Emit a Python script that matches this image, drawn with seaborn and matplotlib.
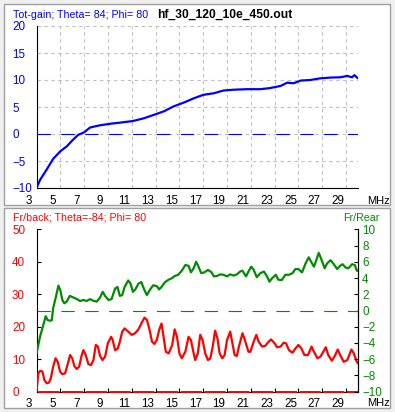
import matplotlib
matplotlib.use("Agg")
import numpy as np
import pandas as pd
import matplotlib.pyplot as plt
import seaborn as sns
from matplotlib.patches import Rectangle
from matplotlib.transforms import ScaledTranslation

# ---------------- data ----------------
gain_mhz = [3.0, 3.3, 3.85, 4.4, 5.0, 5.54, 5.96, 6.5, 7.0, 7.5,
            8.3, 9.2, 10.0, 11.1, 12.0, 12.8, 13.7, 14.5, 15.35, 16.2,
            17.0, 17.9, 18.7, 19.55, 20.7, 21.8, 22.6, 23.5, 24.05, 24.6,
            25.2, 26.0, 26.8, 27.7, 28.5, 29.1, 29.5, 29.7, 30.0]
gain_db = [-10.0, -8.5, -6.6, -4.6, -3.2, -2.3, -1.3, -0.15, 0.3, 1.2,
           1.6, 1.9, 2.1, 2.4, 2.9, 3.5, 4.2, 5.1, 5.8, 6.6,
           7.25, 7.55, 8.05, 8.2, 8.3, 8.3, 8.5, 8.9, 9.5, 9.4,
           9.9, 10.0, 10.3, 10.45, 10.5, 10.75, 10.5, 10.9, 10.3]

fr_mhz = [3.0, 3.3, 3.57, 3.77, 3.94, 4.14, 4.28, 4.4, 4.6, 4.84,
          5.0, 5.17, 5.34, 5.54, 5.8, 6.1, 6.4, 6.66, 6.94, 7.2,
          7.5, 7.78, 8.06, 8.34, 8.56, 8.76, 9.04, 9.3, 9.6, 9.8,
          10.0, 10.2, 10.4, 10.7, 10.9, 11.1, 11.3, 11.56, 11.8, 12.07,
          12.27, 12.55, 12.8, 13.1, 13.3, 13.5, 13.8, 14.1, 14.4, 14.6,
          14.9, 15.2, 15.5, 15.77, 15.97, 16.2, 16.4, 16.55, 16.83, 17.1,
          17.4, 17.7, 17.9, 18.15, 18.43, 18.7, 18.99, 19.27, 19.55, 19.83,
          20.1, 20.3, 20.6, 20.8, 21.04, 21.24, 21.5, 21.8, 22.1, 22.36,
          22.56, 22.8, 23.1, 23.3, 23.6, 23.9, 24.2, 24.5, 24.74, 25.0,
          25.3, 25.6, 25.86, 26.1, 26.3, 26.5, 26.7, 26.9, 27.2, 27.4,
          27.7, 27.97, 28.25, 28.5, 28.7, 28.95, 29.2, 29.5, 29.73, 29.9,
          30.0]
fr_db = [-5.3, -3.2, -1.8, -0.7, -1.2, -1.25, -1.2, 0.3, 1.5, 3.06,
         2.5, 1.3, 0.88, 1.1, 1.8, 1.6, 1.4, 1.17, 1.3, 1.17,
         1.4, 1.2, 1.1, 1.6, 2.3, 1.8, 1.3, 1.4, 2.7, 2.9,
         1.8, 1.9, 2.9, 3.7, 3.3, 2.3, 2.6, 3.3, 3.5, 2.5,
         1.9, 2.6, 3.1, 3.0, 2.6, 2.9, 3.5, 3.8, 4.0, 4.25,
         4.4, 4.9, 5.6, 5.5, 4.7, 5.2, 6.0, 5.6, 4.6, 4.7,
         5.0, 4.7, 4.2, 4.25, 4.45, 4.4, 4.2, 4.45, 4.3, 4.45,
         4.8, 4.9, 4.2, 4.8, 5.4, 5.0, 4.1, 4.6, 4.8, 4.2,
         3.55, 4.0, 4.4, 3.8, 3.75, 4.4, 4.4, 4.6, 5.1, 5.1,
         4.7, 5.8, 6.55, 5.9, 5.4, 6.2, 7.1, 6.4, 5.2, 5.8,
         6.2, 5.7, 5.1, 5.5, 5.7, 5.3, 5.2, 5.7, 5.6, 4.9,
         4.9]

fb_mhz = [3.0, 3.15, 3.3, 3.5, 3.66, 3.86, 4.05, 4.2, 4.4, 4.6,
          4.78, 4.98, 5.17, 5.4, 5.6, 5.82, 6.0, 6.18, 6.38, 6.58,
          6.8, 6.94, 7.13, 7.36, 7.58, 7.78, 7.98, 8.15, 8.34, 8.54,
          8.76, 8.99, 9.27, 9.4, 9.6, 9.83, 10.0, 10.2, 10.4, 10.7,
          11.0, 11.28, 11.56, 11.84, 12.07, 12.27, 12.5, 12.7, 12.9, 13.1,
          13.3, 13.5, 13.67, 13.86, 14.1, 14.4, 14.6, 14.8, 15.0, 15.2,
          15.5, 15.77, 15.97, 16.2, 16.33, 16.55, 16.75, 16.95, 17.17, 17.4,
          17.6, 17.8, 18.0, 18.2, 18.38, 18.6, 18.8, 19.0, 19.27, 19.4,
          19.64, 19.83, 20.0, 20.3, 20.5, 20.8, 20.96, 21.24, 21.46, 21.66,
          21.94, 22.2, 22.5, 22.7, 23.0, 23.2, 23.5, 23.76, 23.96, 24.2,
          24.5, 24.74, 25.0, 25.25, 25.5, 25.8, 26.1, 26.3, 26.6, 26.85,
          27.3, 27.5, 27.8, 28.05, 28.3, 28.5, 28.8, 29.1, 29.45, 29.65,
          29.9, 30.0]
fb_db = [0.0, 5.6, 6.4, 6.2, 3.6, 2.6, 2.8, 4.1, 7.7, 10.3,
         9.2, 6.2, 5.4, 5.65, 8.2, 11.3, 10.3, 7.9, 7.0, 7.7,
         11.3, 12.8, 11.3, 8.5, 8.2, 9.75, 14.4, 13.9, 11.0, 9.75,
         10.8, 14.9, 16.9, 15.9, 12.8, 13.3, 15.4, 18.5, 19.5, 18.5,
         17.5, 18.0, 19.2, 21.25, 22.8, 22.1, 19.0, 15.4, 14.7, 15.9,
         19.0, 21.0, 16.9, 12.3, 11.8, 14.4, 19.2, 16.9, 11.8, 10.3,
         12.3, 16.9, 15.9, 11.8, 9.75, 11.8, 17.5, 15.9, 11.8, 9.75,
         10.3, 13.9, 18.8, 16.4, 11.8, 10.3, 11.3, 15.9, 18.5, 15.9,
         11.3, 11.0, 13.9, 18.0, 15.9, 12.3, 12.3, 15.4, 17.5, 15.4,
         13.9, 14.1, 15.4, 16.1, 14.9, 13.7, 13.9, 15.1, 14.9, 12.8,
         12.0, 13.3, 14.4, 13.3, 11.3, 11.3, 13.9, 12.3, 10.3, 10.8,
         13.7, 11.3, 9.55, 11.0, 13.0, 11.3, 9.2, 9.75, 13.0, 11.8,
         9.2, 8.7]

x_ticks = [3, 5, 7, 9, 11, 13, 15, 17, 19, 21, 23, 25, 27, 29]
gain_ticks = [-10, -5, 0, 5, 10, 15, 20]
fb_ticks = [0, 10, 20, 30, 40, 50]
fr_ticks = [-10, -8, -6, -4, -2, 0, 2, 4, 6, 8, 10]

title_gain = "Tot-gain; Theta= 84; Phi= 80"
title_file = "hf_30_120_10e_450.out"
title_fb = "Fr/back; Theta=-84; Phi= 80"
title_fr = "Fr/Rear"
unit_label = "MHz"

# ---------------- style ----------------
sns.set_theme(style="white")
plt.rcParams['font.family'] = ['Liberation Sans', 'DejaVu Sans']
plt.rcParams['lines.scale_dashes'] = False

BLUE = '#0000ff'
RED = '#ff0000'
GREEN = '#008c00'
FS = 8.4
TFS = 7.7

W, H = 395, 412
fig = plt.figure(figsize=(W / 100, H / 100), dpi=100, facecolor='#f0f0f0')


def fx(px):
    return px / W


def fy(py):
    return 1 - py / H


for (y0, y1) in [(4, 205), (208, 408)]:
    fig.patches.append(Rectangle((fx(4), fy(y1)), fx(390) - fx(4), fy(y0) - fy(y1),
                                 transform=fig.transFigure, facecolor='white',
                                 edgecolor='#a0a0a0', linewidth=1.0, zorder=-1))

L, R = 36.5, 358
ax1 = fig.add_axes([fx(L), fy(188), fx(R) - fx(L), fy(26) - fy(188)])
ax2 = fig.add_axes([fx(L), fy(391.7), fx(R) - fx(L), fy(229.3) - fy(391.7)])
ax3 = ax2.twinx()
for a in (ax1, ax2, ax3):
    a.set_facecolor('none')

# ---------------- top panel ----------------
df_gain = pd.DataFrame({'MHz': gain_mhz, 'gain': gain_db})
sns.lineplot(data=df_gain, x='MHz', y='gain', ax=ax1, color=BLUE,
             linewidth=1.6, estimator=None, sort=False, zorder=3)
ax1.axhline(0, color=BLUE, linewidth=0.8, linestyle=(0, (9.6, 7.6)), zorder=2.6)
ax1.set_xlim(3, 30)
ax1.set_ylim(-10, 20)
ax1.set_xticks(x_ticks)
ax1.set_yticks(gain_ticks)
ax1.grid(True, color='#c0c0c0', linestyle=(0, (2.5, 2.5)), linewidth=0.8)
ax1.set_xlabel('')
ax1.set_ylabel('')
for s in ('top', 'right'):
    ax1.spines[s].set_visible(False)
for s in ('left', 'bottom'):
    ax1.spines[s].set_color('black')
    ax1.spines[s].set_linewidth(0.8)
ax1.tick_params(axis='x', length=0, pad=4.8, labelsize=FS, labelcolor='black')
ax1.tick_params(axis='y', length=0, pad=17.6, labelsize=FS, labelcolor=BLUE)

# ---------------- bottom panel ----------------
df_fb = pd.DataFrame({'MHz': fb_mhz, 'fb': fb_db})
df_fr = pd.DataFrame({'MHz': fr_mhz, 'fr': fr_db})
sns.lineplot(data=df_fb, x='MHz', y='fb', ax=ax2, color=RED,
             linewidth=1.6, estimator=None, sort=False, zorder=3)
ax2.axhline(0, color=RED, linewidth=1.4, linestyle=(16.2, (15.3, 1.8)),
            zorder=3, clip_on=False)
sns.lineplot(data=df_fr, x='MHz', y='fr', ax=ax3, color=GREEN,
             linewidth=1.6, estimator=None, sort=False, zorder=3)
ax3.axhline(0, color=GREEN, linewidth=0.8, linestyle=(0, (9.6, 7.6)), zorder=2.6)

ax2.set_xlim(3, 30)
ax2.set_ylim(0, 50)
ax3.set_ylim(-10, 10)
ax2.set_xticks(x_ticks)
ax2.set_yticks(fb_ticks)
ax3.set_yticks(fr_ticks)
for a in (ax2, ax3):
    a.set_xlabel('')
    a.set_ylabel('')
    a.grid(False)
ax2.spines['top'].set_visible(False)
for s in ('left', 'bottom', 'right'):
    ax2.spines[s].set_color('black')
    ax2.spines[s].set_linewidth(0.8)
for s in ('top', 'left', 'bottom'):
    ax3.spines[s].set_visible(False)
ax3.spines['right'].set_color('black')
ax3.spines['right'].set_linewidth(0.8)

ax2.tick_params(axis='x', direction='in', length=3.2, width=0.8, color='black',
                pad=4.8, labelsize=FS, labelcolor='black', bottom=True)
ax2.tick_params(axis='y', direction='in', length=3.0, width=0.8, color='black',
                pad=17.6, labelsize=FS, labelcolor=RED, left=True)
ax3.tick_params(axis='y', direction='in', length=3.0, width=0.8, color='black',
                pad=2.9, labelsize=FS, labelcolor=GREEN, right=True)

# label alignment tweaks (left-aligned y labels, shifted x labels)
shift = ScaledTranslation(-8 / 100, 0, fig.dpi_scale_trans)
for a in (ax1, ax2):
    for lab in a.get_yticklabels():
        lab.set_ha('left')
    for lab in a.get_xticklabels():
        lab.set_transform(lab.get_transform() + shift)

# ---------------- texts ----------------
fig.text(fx(13), fy(17.5), title_gain, color=BLUE, fontsize=TFS, ha='left', va='baseline')
fig.text(fx(157), fy(17.3), title_file, color='black', fontsize=8.7, fontweight='bold',
         ha='left', va='baseline')
fig.text(fx(13), fy(220.7), title_fb, color=RED, fontsize=TFS, ha='left', va='baseline')
fig.text(fx(379), fy(220.7), title_fr, color=GREEN, fontsize=TFS, ha='right', va='baseline')
fig.text(fx(367), fy(203.5), unit_label, color='black', fontsize=8.0, ha='left', va='baseline')
fig.text(fx(367), fy(406.5), unit_label, color='black', fontsize=8.0, ha='left', va='baseline')

fig.savefig('out.png', dpi=100, facecolor=fig.get_facecolor())
